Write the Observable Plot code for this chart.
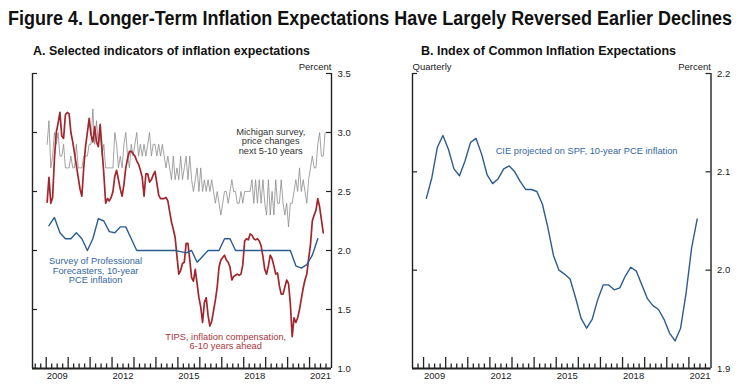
<!DOCTYPE html>
<html><head><meta charset="utf-8">
<script src="https://cdn.jsdelivr.net/npm/d3@7"></script>
<script src="https://cdn.jsdelivr.net/npm/@observablehq/plot@0.6"></script>
<style>
body{margin:0;background:#fff;}
#root{position:relative;width:740px;height:388px;overflow:hidden;background:#fff;font-family:"Liberation Sans",Arial,sans-serif;color:#222}
.hd{position:absolute;white-space:nowrap;font-family:"Liberation Sans Narrow","Arial Narrow","Liberation Sans",Arial,sans-serif;font-weight:bold;transform-origin:0 0;color:#111}
.pl{position:absolute;top:60px}
</style></head><body>
<div id="root">
<div id="t0" class="hd" style="left:8px;top:7px;font-size:20px;line-height:22px">Figure 4. Longer-Term Inflation Expectations Have Largely Reversed Earlier Declines</div>
<div id="t1" class="hd" style="left:33px;top:43px;font-size:13.5px;line-height:16px">A. Selected indicators of inflation expectations</div>
<div id="t2" class="hd" style="left:421px;top:43px;font-size:13.5px;line-height:16px">B. Index of Common Inflation Expectations</div>
<div id="pa" class="pl" style="left:0"></div>
<div id="pb" class="pl" style="left:370px"></div>
</div>
<script>
// Monthly, Jan 2009 - Sep 2021
const michigan = [
  2.9,3.1,2.7,2.8,3.0,2.9,3.0,2.8,2.8,2.9,2.7,2.7,
  2.7,2.8,2.7,2.7,2.9,2.7,2.7,2.7,2.8,2.8,2.8,2.9,
  2.9,3.2,2.9,3.1,2.9,3.0,2.8,2.9,2.7,2.7,2.7,2.7,
  2.7,3.0,2.9,2.7,2.8,2.7,2.9,3.0,2.8,2.7,2.9,2.8,
  2.9,3.0,2.8,2.9,2.8,2.9,2.8,2.9,3.0,2.8,2.9,2.9,
  2.8,2.9,2.8,2.9,2.8,2.7,2.8,2.7,2.6,2.8,2.6,2.7,
  2.6,2.8,2.6,2.7,2.8,2.6,2.8,2.6,2.5,2.6,2.7,2.5,
  2.7,2.5,2.6,2.5,2.6,2.5,2.6,2.5,2.4,2.5,2.4,2.3,
  2.4,2.5,2.5,2.4,2.5,2.6,2.5,2.5,2.4,2.4,2.5,2.4,
  2.5,2.5,2.5,2.5,2.6,2.4,2.6,2.4,2.6,2.4,2.6,2.4,
  2.3,2.6,2.3,2.5,2.3,2.6,2.4,2.4,2.6,2.4,2.3,2.4,
  2.2,2.4,2.4,2.5,2.6,2.5,2.7,2.5,2.6,2.5,2.4,2.6,
  2.7,2.8,2.7,2.7,2.9,3.0,2.8,2.8,3.0
];
// Monthly, Jan 2009 - Aug 2021
const tips = [
  2.41,2.62,2.40,2.45,2.78,3.00,3.08,3.17,2.97,2.95,3.15,3.17,
  3.16,3.00,2.92,2.82,2.72,2.62,2.52,2.46,2.70,2.88,3.00,3.12,
  2.98,2.92,3.05,2.92,2.88,3.07,2.86,2.65,2.40,2.44,2.42,2.45,
  2.50,2.63,2.68,2.60,2.52,2.46,2.56,2.70,2.78,2.84,2.84,2.82,
  2.80,2.76,2.73,2.68,2.62,2.46,2.65,2.65,2.58,2.60,2.64,2.67,
  2.57,2.47,2.44,2.44,2.44,2.45,2.42,2.33,2.24,2.18,2.11,1.95,
  1.80,1.83,1.89,1.90,2.06,2.06,1.92,1.77,1.74,1.84,1.72,1.60,
  1.52,1.39,1.56,1.60,1.45,1.36,1.40,1.49,1.58,1.69,1.86,1.92,
  1.94,1.96,1.92,1.90,1.86,1.75,1.78,1.79,1.80,1.79,1.80,1.88,
  2.08,2.10,2.09,2.14,2.13,2.10,2.09,2.10,2.08,2.04,1.95,1.84,
  1.80,1.87,1.96,1.93,1.87,1.80,1.81,1.70,1.63,1.63,1.69,1.75,
  1.72,1.55,1.27,1.43,1.39,1.43,1.50,1.59,1.68,1.75,1.80,1.93,
  2.05,2.25,2.30,2.34,2.44,2.37,2.26,2.15
];
// Quarterly, 2009Q1 - 2021Q2
const spf = [
  2.21,2.28,2.15,2.10,2.10,2.15,2.10,2.00,2.10,2.27,2.25,2.16,
  2.15,2.20,2.20,2.10,2.00,2.00,2.00,2.00,2.00,2.00,2.00,2.00,
  1.99,1.98,2.00,1.90,1.95,2.00,2.00,2.00,2.10,2.10,2.00,2.00,
  2.00,2.00,2.00,2.00,2.00,2.00,2.00,2.00,2.00,1.87,1.85,1.88,
  1.96,2.10
];
const cie = [
  2.073,2.094,2.125,2.137,2.123,2.103,2.096,2.111,2.130,2.134,2.118,2.097,
  2.088,2.093,2.103,2.106,2.100,2.090,2.082,2.082,2.080,2.067,2.043,2.015,
  2.000,1.996,1.991,1.972,1.951,1.941,1.950,1.970,1.985,1.985,1.980,1.982,
  1.994,2.003,1.999,1.985,1.971,1.964,1.960,1.950,1.936,1.928,1.941,1.977,
  2.023,2.052
];
const firstYear = 2009;
const xLabelYears = [2009, 2012, 2015, 2018, 2021];
const leftYTicks = [1.0, 1.5, 2.0, 2.5, 3.0, 3.5];
const rightYTicks = [1.9, 2.0, 2.1, 2.2];

const monthly = arr => arr.map((v, i) => ({t: firstYear + (i + 0.5) / 12, v}));
const quarterly = arr => arr.map((v, i) => ({t: firstYear + (i + 0.5) / 4, v}));

const RED = "#a2262c", BLUE = "#2b5c90", GRAY = "#8c8c8c", INK = "#222";
const style = {fontFamily: '"Liberation Sans", Arial, sans-serif', fontSize: "9.5px", color: INK, background: "transparent", overflow: "visible"};

function frameMarks(xd, yd, W, H, mt, mb, ml, mr, yTicks) {
  const innerW = W - ml - mr, innerH = H - mt - mb;
  const years = d3.range(Math.ceil(xd[0]), Math.floor(xd[1]) + 1).filter(y => y > xd[0] && y < xd[1]);
  const quarters = d3.range(Math.ceil(xd[0] * 4), Math.floor(xd[1] * 4) + 1).map(q => q / 4)
    .filter(q => q % 1 !== 0 && q > xd[0] + 0.01 && q < xd[1] - 0.01);
  return [
    Plot.ruleX(quarters, {x: d => d, insetTop: innerH - 4.5, stroke: INK, strokeWidth: 1.3}),
    Plot.ruleX(years, {x: d => d, insetTop: innerH - 11, stroke: INK, strokeWidth: 1.3}),
    Plot.ruleY(yTicks, {y: d => d, insetRight: innerW - 5, stroke: INK, strokeWidth: 1.2}),
    Plot.ruleY(yTicks, {y: d => d, insetLeft: innerW - 5, stroke: INK, strokeWidth: 1.2}),
    Plot.ruleX(xd, {x: d => d, stroke: INK, strokeWidth: 1.4}),
    Plot.ruleY([yd[0]], {y: d => d, stroke: INK, strokeWidth: 2}),
    Plot.axisY({anchor: "right", ticks: yTicks, tickSize: 0, tickPadding: 6, tickFormat: d3.format(".1f"), label: null, fill: INK}),
    Plot.axisX({anchor: "bottom", ticks: xLabelYears.map(y => y + 0.5), tickSize: 0, tickPadding: 4, tickFormat: d => String(Math.floor(d)), label: null, fill: INK})
  ];
}

// Panel A
{
  const W = 370, H = 328, mt = 13, mb = 20, ml = 32, mr = 39;
  const xd = [2008.375, 2022], yd = [1, 3.5];
  const chart = Plot.plot({
    width: W, height: H, marginTop: mt, marginBottom: mb, marginLeft: ml, marginRight: mr,
    x: {domain: xd}, y: {domain: yd}, style,
    marks: [
      Plot.line(monthly(michigan), {x: "t", y: "v", stroke: GRAY, strokeWidth: 0.8}),
      Plot.line(monthly(tips), {x: "t", y: "v", stroke: RED, strokeWidth: 1.7}),
      Plot.line(quarterly(spf), {x: "t", y: "v", stroke: BLUE, strokeWidth: 1.4}),
      ...frameMarks(xd, yd, W, H, mt, mb, ml, mr, leftYTicks),
      Plot.text(["Percent"], {frameAnchor: "top-right", lineAnchor: "middle", dy: -7, fill: INK, fontSize: 9.5}),
      Plot.text([{t: 2019.23, v: 2.924, s: "Michigan survey,\nprice changes\nnext 5-10 years"}],
        {x: "t", y: "v", text: "s", fill: "#333", fontSize: 9.3, lineHeight: 1.0, textAnchor: "middle", lineAnchor: "middle"}),
      Plot.text([{t: 2011.25, v: 1.828, s: "Survey of Professional\nForecasters, 10-year\nPCE inflation"}],
        {x: "t", y: "v", text: "s", fill: "#3467a0", fontSize: 9.3, lineHeight: 1.0, textAnchor: "middle", lineAnchor: "middle"}),
      Plot.text([{t: 2017.18, v: 1.229, s: "TIPS, inflation compensation,\n6-10 years ahead"}],
        {x: "t", y: "v", text: "s", fill: "#a8353a", fontSize: 9.3, lineHeight: 1.0, textAnchor: "middle", lineAnchor: "middle"})
    ]
  });
  document.getElementById("pa").appendChild(chart);
}

// Panel B
{
  const W = 370, H = 328, mt = 13, mb = 20, ml = 42, mr = 29.5;
  const xd = [2008.5, 2022], yd = [1.9, 2.2];
  const chart = Plot.plot({
    width: W, height: H, marginTop: mt, marginBottom: mb, marginLeft: ml, marginRight: mr,
    x: {domain: xd}, y: {domain: yd}, style,
    marks: [
      Plot.line(quarterly(cie), {x: "t", y: "v", stroke: BLUE, strokeWidth: 1.4}),
      ...frameMarks(xd, yd, W, H, mt, mb, ml, mr, rightYTicks),
      Plot.text(["Percent"], {frameAnchor: "top-right", lineAnchor: "middle", dy: -7, fill: INK, fontSize: 9.5}),
      Plot.text(["Quarterly"], {frameAnchor: "top-left", lineAnchor: "middle", dy: -7, fill: INK, fontSize: 9.5}),
      Plot.text([{t: 2012.26, v: 2.121, s: "CIE projected on SPF, 10-year PCE inflation"}],
        {x: "t", y: "v", text: "s", fill: "#3467a0", fontSize: 9.3, textAnchor: "start", lineAnchor: "middle"})
    ]
  });
  document.getElementById("pb").appendChild(chart);
}

// Fit headings to their widths in the reference
function fit(id, w) {
  const el = document.getElementById(id);
  const r = el.getBoundingClientRect().width;
  if (r > 0) el.style.transform = `scaleX(${w / r})`;
}
fit("t0", 724);
fit("t1", 277);
fit("t2", 255);
</script>
</body></html>
